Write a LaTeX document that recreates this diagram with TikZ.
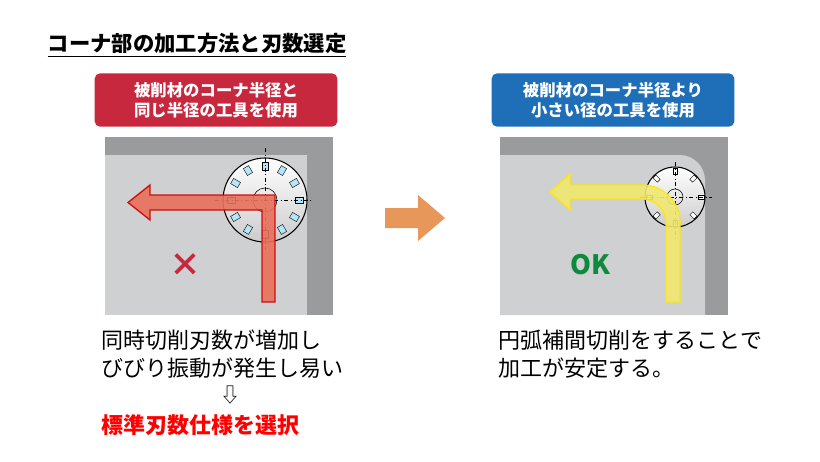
\documentclass[tikz,border=0pt]{standalone}
\usepackage{fontspec}
\setmainfont{Noto Sans CJK JP}
\usetikzlibrary{arrows.meta}
\definecolor{dg}{HTML}{9A9B9D}
\definecolor{lg}{HTML}{CFD0D2}
\definecolor{rb}{HTML}{C8283E}
\definecolor{bb}{HTML}{1F6FB8}
\definecolor{ra}{HTML}{E8705A}
\definecolor{ya}{HTML}{F2E870}
\definecolor{oa}{HTML}{E8975A}
\definecolor{okg}{HTML}{0E8A3C}
\tikzset{lbl/.style={rounded corners=4pt,minimum width=182pt,minimum height=40pt,text=white,font=\bfseries\fontsize{12.3}{15}\selectfont,align=center},
body/.style={anchor=west,font=\fontsize{16.5}{18}\selectfont},
cut/.style={draw=black,line width=0.8pt,top color=white,bottom color=gray!40},
tooth/.style={fill=cyan!30,draw=black,line width=0.3pt}}
\begin{document}
\begin{tikzpicture}[x=0.75pt,y=-0.75pt]
\useasboundingbox (0,0) rectangle (820,461);
\node[anchor=west,font=\bfseries\fontsize{16}{18}\selectfont] (title) at (43,45) {\underline{コーナ部の加工方法と刃数選定}};
% left panel
\node[lbl,fill=rb] (lb) at (216,100) {被削材のコーナ半径と\\同じ半径の工具を使用};
\fill[dg] (105,137) rectangle (333,315);
\fill[lg] (105,155) rectangle (307,315);
\node[circle,cut,minimum size=63pt] (c1) at (265,200) {};
\foreach \a in {0,30,...,330}{\draw[tooth,rotate around={\a:(265,200)}] (262,162) rectangle (268,170);}
\draw[black,dash dot,line width=0.4pt] (265,148)--(265,250) (215,200)--(312,200);
\draw[black,line width=0.4pt] (265,200) circle (12);
\draw[red!80!black,fill=ra,opacity=0.9,line width=1pt] (275,195)--(275,302)--(262,302)--(262,210)--(150,210)--(150,220)--(128,202.5)--(150,185)--(150,195)--cycle;
\node[text=rb,font=\bfseries\fontsize{24}{24}\selectfont] (x) at (185,265) {×};
% middle arrow
\fill[oa] (385,208)--(418,208)--(418,195)--(445,218)--(418,241)--(418,228)--(385,228)--cycle;
% right panel
\node[lbl,fill=bb] (rb2) at (613,100) {被削材のコーナ半径より\\小さい径の工具を使用};
\fill[dg] (500,137) rectangle (728,315);
\fill[lg] (500,315)--(500,155) [rounded corners=19pt]--(705,155) [sharp corners]-- (705,315)--cycle;
\node[circle,cut,minimum size=45pt] (c2) at (675,197) {};
\foreach \a in {0,45,...,315}{\draw[tooth,fill=white,rotate around={\a:(675,197)}] (673,168) rectangle (677,174);}
\draw[black,dash dot,line width=0.4pt] (675,162)--(675,240) (640,197)--(712,197);
\draw[black,line width=0.4pt] (675,197) circle (8);
\draw[yellow!90!orange,fill=ya,opacity=0.9,line width=1pt] (570,185) [rounded corners=28pt]--(680,185) [sharp corners]--(680,302)--(666,302) [rounded corners=18pt]--(666,199) [sharp corners]--(570,199)--(570,210)--(550,192)--(570,174)--cycle;
\node[text=okg,font=\bfseries\fontsize{20}{20}\selectfont] (ok) at (590,265) {OK};
% texts
\node[body] (t1) at (97,340) {同時切削刃数が増加し};
\node[body] (t2) at (97,368) {びびり振動が発生し易い};
\node[font=\fontsize{15}{15}\selectfont] (dn) at (230,395) {⇩};
\node[body,text=red,font=\bfseries\fontsize{16.5}{18}\selectfont] (t3) at (97,425) {標準刃数仕様を選択};
\node[body] (t4) at (494,340) {円弧補間切削をすることで};
\node[body] (t5) at (494,368) {加工が安定する。};
\end{tikzpicture}
\end{document}
